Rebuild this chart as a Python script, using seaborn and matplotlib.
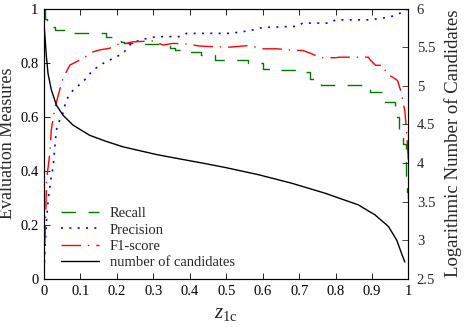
import numpy as np
import pandas as pd
import matplotlib
matplotlib.use("Agg")
import matplotlib.pyplot as plt
import seaborn as sns

# ---- data ----
z_recall = [0, 0.003, 0.007, 0.029, 0.057, 0.17, 0.19, 0.21, 0.22, 0.27, 0.33, 0.345, 0.36,
            0.39, 0.43, 0.47, 0.56, 0.60, 0.64, 0.69, 0.73, 0.76, 0.895, 0.93, 0.962, 0.975,
            0.985, 0.992, 0.997, 1.0]
recall = [1.0, 0.96, 0.93, 0.92, 0.908, 0.896, 0.885, 0.877, 0.871, 0.868, 0.861, 0.853, 0.847,
          0.838, 0.828, 0.81, 0.798, 0.777, 0.774, 0.765, 0.74, 0.716, 0.69, 0.654, 0.60, 0.55,
          0.5, 0.38, 0.32, 0.30]

z_precision = [0, 0.003, 0.007, 0.012, 0.02, 0.025, 0.034, 0.043, 0.052, 0.061, 0.08, 0.107,
               0.135, 0.162, 0.19, 0.217, 0.235, 0.263, 0.309, 0.373, 0.391, 0.51, 0.564, 0.6,
               0.693, 0.71, 0.784, 0.80, 0.893, 0.948, 0.984, 1.0]
precision = [0.03, 0.12, 0.22, 0.3, 0.378, 0.415, 0.551, 0.588, 0.613, 0.662, 0.699, 0.729,
             0.773, 0.797, 0.816, 0.834, 0.865, 0.884, 0.896, 0.896, 0.908, 0.908, 0.918, 0.93,
             0.934, 0.946, 0.946, 0.958, 0.958, 0.968, 0.986, 1.0]

z_f1 = [0, 0.002, 0.005, 0.007, 0.016, 0.02, 0.029, 0.038, 0.052, 0.071, 0.089, 0.107, 0.135,
        0.153, 0.18, 0.208, 0.226, 0.244, 0.3, 0.327, 0.354, 0.39, 0.428, 0.464, 0.51, 0.561,
        0.602, 0.64, 0.69, 0.71, 0.73, 0.76, 0.80, 0.81, 0.89, 0.895, 0.91, 0.93, 0.94, 0.97,
        0.98, 0.99, 0.995, 1.0]
f1 = [0.0, 0.12, 0.25, 0.366, 0.465, 0.551, 0.625, 0.674, 0.742, 0.791, 0.803, 0.816, 0.84,
      0.847, 0.853, 0.871, 0.871, 0.877, 0.88, 0.865, 0.871, 0.869, 0.861, 0.859, 0.857, 0.863,
      0.851, 0.851, 0.845, 0.845, 0.835, 0.818, 0.818, 0.82, 0.82, 0.81, 0.79, 0.79, 0.76, 0.734,
      0.69, 0.62, 0.54, 0.43]

z_cand = [0, 0.002, 0.0066, 0.011, 0.020, 0.034, 0.052, 0.080, 0.125, 0.171, 0.217, 0.263,
          0.309, 0.354, 0.40, 0.446, 0.50, 0.588, 0.679, 0.771, 0.862, 0.908, 0.945, 0.968,
          0.981, 0.990]
log_candidates = [5.80, 5.68, 5.38, 5.16, 4.95, 4.75, 4.62, 4.49, 4.36, 4.28, 4.21, 4.16,
                  4.11, 4.07, 4.03, 3.99, 3.94, 3.85, 3.74, 3.61, 3.46, 3.33, 3.18, 3.00,
                  2.83, 2.72]

x_ticks = [0, 0.1, 0.2, 0.3, 0.4, 0.5, 0.6, 0.7, 0.8, 0.9, 1]
x_tick_labels = ["0", "0.1", "0.2", "0.3", "0.4", "0.5", "0.6", "0.7", "0.8", "0.9", "1"]
y_ticks = [0, 0.2, 0.4, 0.6, 0.8, 1]
y_tick_labels = ["0", "0.2", "0.4", "0.6", "0.8", "1"]
y2_ticks = [2.5, 3, 3.5, 4, 4.5, 5, 5.5, 6]
y2_tick_labels = ["2.5", "3", "3.5", "4", "4.5", "5", "5.5", "6"]

# ---- style ----
sns.set_style("ticks")
plt.rcParams["font.family"] = ["Liberation Serif", "DejaVu Serif"]
plt.rcParams["mathtext.fontset"] = "custom"
plt.rcParams["mathtext.rm"] = "Liberation Serif"
plt.rcParams["mathtext.it"] = "Liberation Serif:italic"
plt.rcParams["xtick.direction"] = "in"
plt.rcParams["ytick.direction"] = "in"

fig = plt.figure(figsize=(4.67, 3.27), dpi=100)
ax = fig.add_axes([0.0942, 0.1468, 0.7805, 0.8272])
ax2 = ax.twinx()

df_r = pd.DataFrame({"z": z_recall, "v": recall})
df_p = pd.DataFrame({"z": z_precision, "v": precision})
df_f = pd.DataFrame({"z": z_f1, "v": f1})
df_c = pd.DataFrame({"z": z_cand, "v": log_candidates})

sns.lineplot(data=df_r, x="z", y="v", ax=ax, color="#007700", lw=1.0,
             drawstyle="steps-post", label="Recall", estimator=None, sort=False)
sns.lineplot(data=df_p, x="z", y="v", ax=ax, color="#0000ff", lw=1.2,
             estimator=None, sort=False, label="Precision")
sns.lineplot(data=df_f, x="z", y="v", ax=ax, color="#ff0000", lw=1.0,
             estimator=None, sort=False, label="F1-score")
sns.lineplot(data=df_c, x="z", y="v", ax=ax2, color="black", lw=1.0,
             estimator=None, sort=False, label="number of candidates")

lines = ax.get_lines()
lines[0].set_dashes([10.5, 9])
lines[1].set_dashes([1.2, 3.8])
lines[2].set_dashes([14, 5, 1, 5])

ax.set_xlim(0, 1)
ax.set_ylim(0, 1)
ax2.set_ylim(2.5, 6)
ax.set_xticks(x_ticks)
ax.set_xticklabels(x_tick_labels)
ax.set_yticks(y_ticks)
ax.set_yticklabels(y_tick_labels)
ax2.set_yticks(y2_ticks)
ax2.set_yticklabels(y2_tick_labels)

ax.tick_params(axis="both", labelsize=10.5, length=4, width=0.6, colors="black",
               top=True, direction="in", pad=4)
ax.tick_params(axis="x", pad=4)
ax2.tick_params(axis="y", labelsize=10.5, length=4, width=0.6, direction="in", pad=6)

for a in (ax, ax2):
    for s in a.spines.values():
        s.set_visible(True)
        s.set_color("black")
        s.set_linewidth(0.8)

ax.set_xlabel(r"$z_{\rm 1c}$", fontsize=15, labelpad=5)
ax.set_ylabel("Evaluation Measures", fontsize=13)
ax.yaxis.set_label_coords(-0.077, 0.5)
ax2.set_ylabel("Logarithmic Number of Candidates", fontsize=13.5)
ax2.yaxis.set_label_coords(1.097, 0.5)

if ax.get_legend():
    ax.get_legend().remove()
if ax2.get_legend():
    ax2.get_legend().remove()
handles = list(ax.get_lines()) + list(ax2.get_lines())
labels = ["Recall", "Precision", "F1-score", "number of candidates"]
ax.legend(handles, labels, loc="lower left", bbox_to_anchor=(0.02, 0.0),
          frameon=False, fontsize=10.5, handlelength=2.6, handletextpad=0.7,
          labelspacing=0.2, borderaxespad=0.3)

fig.savefig("out.png", dpi=100)
